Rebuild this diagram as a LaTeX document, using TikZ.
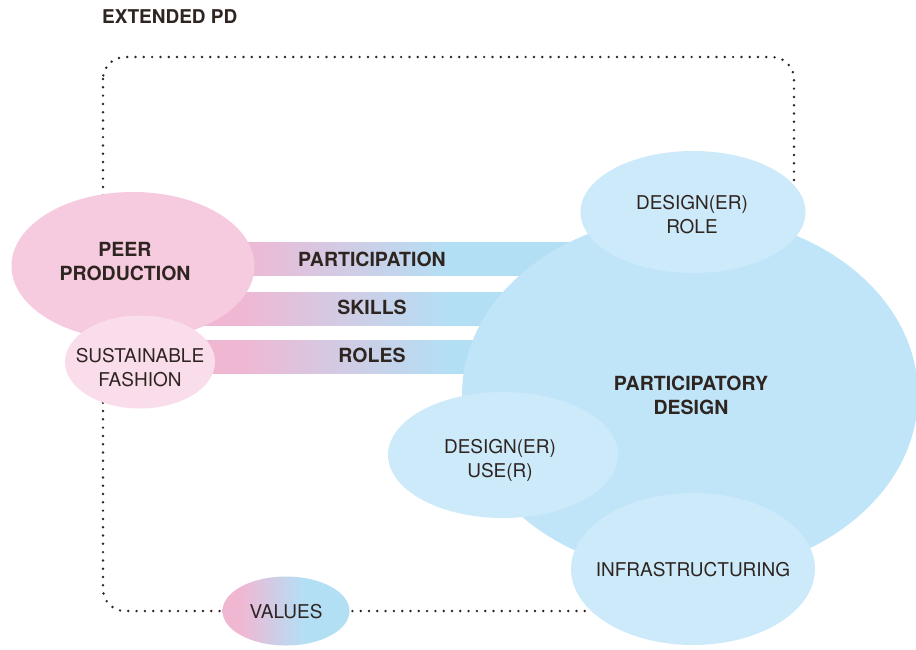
\documentclass[tikz,border=0pt]{standalone}
\usepackage{fontspec}
\setmainfont{TeX Gyre Heros}
\usetikzlibrary{shapes.geometric}
\definecolor{txt}{HTML}{2E2420}
\definecolor{pinkA}{HTML}{F6CADF}
\definecolor{pinkB}{HTML}{F9DDEB}
\definecolor{pinkbar}{HTML}{F0B7D3}
\definecolor{bluebar}{HTML}{B3DFF5}
\definecolor{blueA}{HTML}{C0E5F8}
\definecolor{blueB}{HTML}{CDEAFA}
\pgfdeclarehorizontalshading{barshade}{100bp}{color(0bp)=(pinkbar); color(32bp)=(pinkbar); color(57bp)=(bluebar); color(100bp)=(bluebar)}
\begin{document}
\begin{tikzpicture}[x=1pt,y=-1pt,
  blob/.style={ellipse, inner sep=0pt, draw=none},
  lbl/.style={text=txt, align=center, font=\fontsize{19}{24}\selectfont},
  blbl/.style={text=txt, align=center, font=\fontsize{19.5}{24}\selectfont\bfseries},
  dotbox/.style={draw=txt, line width=2.7pt, line cap=round, dash pattern=on 0pt off 8.3pt, rounded corners=22pt},
  bar/.style={shading=barshade, draw=none}]
\useasboundingbox (0,0) rectangle (916,649);
% dotted frame
\draw[dotbox] (103,57) rectangle (794,611);
% bars
\path[bar] (180,242) rectangle (600,275);
\path[bar] (180,292) rectangle (600,325);
\path[bar] (180,340) rectangle (600,373);
% big ellipse
\node[blob, fill=blueA, minimum width=456pt, minimum height=360pt] (pd) at (690,395) {};
\node[blob, fill=blueB, minimum width=225pt, minimum height=122pt] (role) at (693,212) {};
\node[blob, fill=blueB, minimum width=230pt, minimum height=126pt] (use) at (503,455) {};
\node[blob, fill=blueB, minimum width=244pt, minimum height=152pt] (infra) at (693,569) {};
% pink ellipses
\node[blob, fill=pinkA, minimum width=243pt, minimum height=148pt] (pp) at (133,266) {};
\node[blob, fill=pinkB, minimum width=150pt, minimum height=93pt] (sf) at (140,362) {};
% values
\node[blob, shading=barshade, minimum width=127pt, minimum height=69pt] (val) at (286,611) {};
% labels
\node[blbl, anchor=west, inner sep=0pt, font=\fontsize{19}{24}\selectfont\bfseries] (title) at (102,16.5) {EXTENDED PD};
\node[blbl] (ppt) at (125,262) {PEER\\PRODUCTION};
\node[lbl] (sft) at (140,368) {SUSTAINABLE\\FASHION};
\node[blbl] (lpart) at (372,259) {PARTICIPATION};
\node[blbl] (lskill) at (372,307) {SKILLS};
\node[blbl] (lroles) at (372,355) {ROLES};
\node[blbl] (pdt) at (691,395) {PARTICIPATORY\\DESIGN};
\node[lbl] (rolet) at (692,215) {DESIGN(ER)\\ROLE};
\node[lbl] (uset) at (500,460) {DESIGN(ER)\\USE(R)};
\node[lbl] (infrat) at (693,570) {INFRASTRUCTURING};
\node[lbl] (valt) at (286,612) {VALUES};
\end{tikzpicture}
\end{document}
